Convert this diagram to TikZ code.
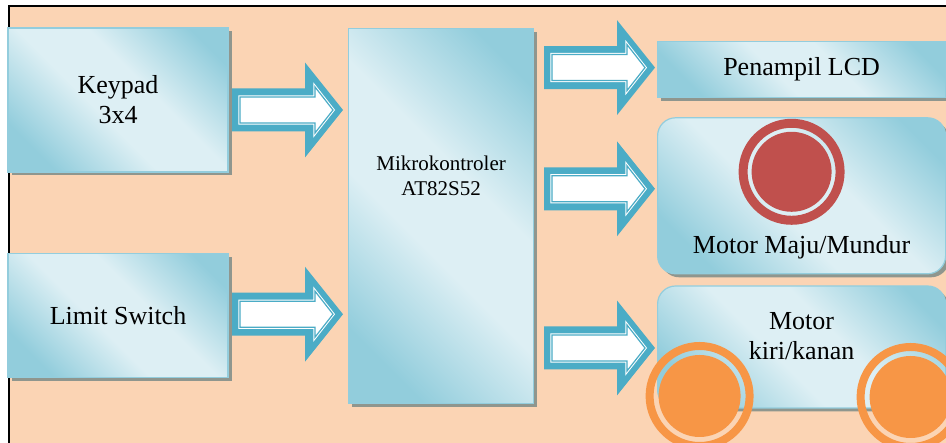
\documentclass[tikz,border=0pt]{standalone}
\usepackage{fontspec}
\setmainfont{Liberation Serif}
\usetikzlibrary{positioning, shadows}

\definecolor{peach}{HTML}{FBD4B4}
\definecolor{boxlight}{HTML}{DDEFF4}
\definecolor{boxdark}{HTML}{92CDDC}
\definecolor{boxedge}{HTML}{93CDDD}
\definecolor{shadowgrey}{HTML}{8F968E}
\definecolor{arrowblue}{HTML}{4BACC6}
\definecolor{motorred}{HTML}{C0504D}
\definecolor{wheelorange}{HTML}{F79646}

\pgfdeclarehorizontalshading{boxshade}{100bp}{color(0bp)=(boxdark); color(24bp)=(boxdark); color(44bp)=(boxlight); color(58bp)=(boxlight); color(78bp)=(boxdark); color(100bp)=(boxdark)}

\begin{document}
\begin{tikzpicture}[x=1pt,y=1pt,
	bluebox/.style={rectangle, draw=boxedge, line width=1.2pt, shading=boxshade, shading angle=45,
		drop shadow={shadow xshift=3.5pt, shadow yshift=-3.5pt, fill=shadowgrey, opacity=1},
		inner sep=0pt, align=center, font=\fontsize{26}{30}\selectfont},
	roundbox/.style={bluebox, rounded corners=18pt},
	boxtext/.style={inner sep=0pt, align=center, font=\fontsize{26}{30}\selectfont},
	blockarrow/.pic={
		\fill[arrowblue] (-111,21.5) -- (-38,21.5) -- (-38,47.5) -- (0,0) -- (-38,-47.5) -- (-38,-21.5) -- (-111,-21.5) -- cycle;
		\draw[white, fill=white, line width=1pt, double=arrowblue, double distance=1.2pt, line join=miter]
			(-103,13) -- (-28,13) -- (-28,23) -- (-10,0) -- (-28,-23) -- (-28,-13) -- (-103,-13) -- cycle;
	}]

	\useasboundingbox (0,0) rectangle (946,443);
	\draw[line width=1.5pt, fill=peach] (9,-10) rectangle (960,437);

	\node (kp) [bluebox, minimum width=220pt, minimum height=144pt] at (118,343) {Keypad\\3x4};
	\node (ls) [bluebox, minimum width=220pt, minimum height=124pt, below=80pt of kp] {Limit Switch};
	\node (mk) [bluebox, minimum width=185pt, minimum height=375pt, anchor=north west] at (348,415) {};
	\node (lcd) [bluebox, minimum width=288pt, minimum height=56pt, anchor=north west] at (657,402) {Penampil LCD};
	\node (mm) [roundbox, minimum width=288pt, minimum height=156pt, below=19pt of lcd] {};
	\node (mkk) [roundbox, minimum width=288pt, minimum height=122pt, below=11pt of mm] {};

	% panah blok
	\path (kp.east -| mk.west) ++(-5,-10) pic {blockarrow};
	\path (ls.east -| mk.west) ++(-5,1) pic {blockarrow};
	\path (lcd.west) ++(-2,2) pic {blockarrow};
	\path (mm.west) ++(-2,7) pic {blockarrow};
	\path (mkk.west) ++(-2,-1) pic {blockarrow};

	% lingkaran motor
	\coordinate (redc) at ([xshift=-10pt, yshift=24pt]mm.center);
	\coordinate (wheelL) at ([xshift=-102pt, yshift=-49pt]mkk.center);
	\coordinate (wheelR) at ([xshift=109pt, yshift=-50pt]mkk.center);
	\fill[motorred, even odd rule] (redc) circle (53) circle (44);
	\fill[motorred] (redc) circle (40);
	\foreach \w in {wheelL, wheelR} {
		\fill[wheelorange, even odd rule] (\w) circle (54) circle (46);
		\fill[wheelorange] (\w) circle (41);
	}

	\node (mklbl) [boxtext, font=\fontsize{21}{25}\selectfont] at ([yshift=40pt]mk.center) {Mikrokontroler\\AT82S52};
	\node (mmlbl) [boxtext, anchor=base] at ([yshift=21pt]mm.south) {Motor Maju/Mundur};
	\node (mkklbl) [boxtext] at ([yshift=11pt]mkk.center) {Motor\\kiri/kanan};
\end{tikzpicture}
\end{document}
